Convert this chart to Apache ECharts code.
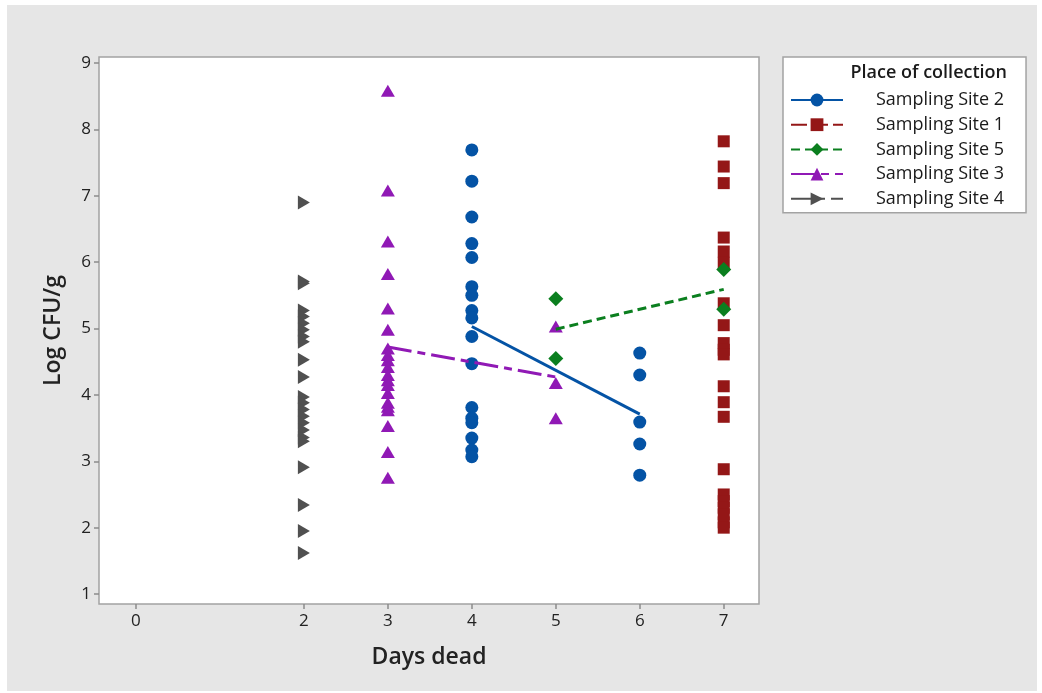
<!DOCTYPE html>
<html>
<head>
<meta charset="utf-8">
<script src="https://cdn.jsdelivr.net/npm/echarts@6/dist/echarts.min.js"></script>
<style>
html,body{margin:0;padding:0;background:#ffffff;width:1042px;height:693px;overflow:hidden;}
#chart{position:absolute;left:7px;top:5px;width:1030px;height:686px;}
</style>
</head>
<body>
<div id="chart"></div>
<script>
// ---- data ----
const xTicks = [0, 2, 3, 4, 5, 6, 7];
const yTicks = [1, 2, 3, 4, 5, 6, 7, 8, 9];

const site2Day4 = [7.69, 7.22, 6.68, 6.28, 6.07, 5.63, 5.50, 5.27, 5.16, 4.88, 4.47, 3.81, 3.65, 3.58, 3.35, 3.17, 3.07];
const site2Day6 = [4.63, 4.30, 3.59, 3.26, 2.79];
const site1Day7 = [7.82, 7.44, 7.19, 6.37, 6.16, 5.99, 5.38, 5.05, 4.78, 4.68, 4.61, 4.13, 3.89, 3.67, 2.88, 2.50, 2.40, 2.30, 2.20, 2.08, 2.00];
const site5Day5 = [5.45, 4.55];
const site5Day7 = [5.89, 5.29];
const site3Day3 = [8.58, 7.08, 6.31, 5.82, 5.30, 4.98, 4.70, 4.60, 4.52, 4.42, 4.30, 4.22, 4.15, 4.03, 3.88, 3.82, 3.77, 3.53, 3.14, 2.75];
const site3Day5 = [5.03, 4.18, 3.65];
const site4Day2 = [6.90, 5.71, 5.68, 5.27, 5.18, 5.08, 4.98, 4.88, 4.80, 4.53, 4.27, 3.97, 3.88, 3.78, 3.68, 3.58, 3.47, 3.36, 3.30, 2.91, 2.34, 1.95, 1.62];

// mean lines
const site2MeanDays = [4, 6];
const site2Means = [5.03, 3.71];
const site5MeanDays = [5, 7];
const site5Means = [4.99, 5.59];
const site3MeanDays = [3, 5];
const site3Means = [4.72, 4.27];

const siteNames = ['Sampling Site 2', 'Sampling Site 1', 'Sampling Site 5', 'Sampling Site 3', 'Sampling Site 4'];

// ---- helpers ----
function pts(day, vals) { return vals.map(v => [day, v]); }
function pairs(days, vals) { return days.map((d, i) => [d, vals[i]]); }

const FONT = '"Open Sans", "Noto Sans", sans-serif';
const C2 = '#0453A5', C1 = '#941717', C5 = '#0B7F1F', C3 = '#9019B5', C4 = '#505050';

function lineSeries(name, color, data, type, symbol, rotate) {
  return {
    name: name, type: 'line', data: data,
    showSymbol: false, symbol: symbol, symbolRotate: rotate || 0,
    lineStyle: { color: color, width: 3, type: type },
    itemStyle: { color: color },
    emphasis: { disabled: true }, silent: true, z: 3
  };
}
function scatterSeries(name, color, data, symbol, size, rotate) {
  return {
    name: name, type: 'scatter', data: data,
    symbol: symbol, symbolSize: size, symbolRotate: rotate || 0,
    itemStyle: { color: color, opacity: 1 },
    emphasis: { disabled: true }, silent: true, z: 2
  };
}

const chart = echarts.init(document.getElementById('chart'));
chart.setOption({
  backgroundColor: '#E6E6E6',
  animation: false,
  textStyle: { fontFamily: FONT },
  grid: {
    left: 92, top: 52, width: 660, height: 547,
    show: true, backgroundColor: '#ffffff', borderColor: '#A3A3A3', borderWidth: 1.5
  },
  xAxis: {
    type: 'value', min: -0.44, max: 7.42,
    name: 'Days dead', nameLocation: 'middle', nameGap: 42,
    nameTextStyle: { fontSize: 23, fontWeight: 600, color: '#222222', fontFamily: FONT },
    axisLine: { show: false, onZero: false },
    axisTick: { show: true, length: 5, customValues: xTicks, lineStyle: { color: '#8C8C8C', width: 1.5 } },
    axisLabel: { customValues: xTicks, fontSize: 17, color: '#222222', margin: 9, fontFamily: FONT },
    splitLine: { show: false }
  },
  yAxis: {
    type: 'value', min: 0.85, max: 9.09,
    name: 'Log CFU/g', nameLocation: 'middle', nameGap: 34,
    nameTextStyle: { fontSize: 23, fontWeight: 600, color: '#222222', fontFamily: FONT },
    axisLine: { show: false, onZero: false },
    axisTick: { show: true, length: 5, customValues: yTicks, lineStyle: { color: '#8C8C8C', width: 1.5 } },
    axisLabel: { customValues: yTicks, fontSize: 17, color: '#222222', margin: 8, fontFamily: FONT },
    splitLine: { show: false }
  },
  legend: {
    orient: 'vertical', left: 776, top: 52,
    data: siteNames,
    itemWidth: 52, itemHeight: 16, itemGap: 6.7,
    padding: [34, 22, 5, 7],
    backgroundColor: '#ffffff', borderColor: '#A3A3A3', borderWidth: 1.5,
    textStyle: { fontSize: 18, color: '#1a1a1a', fontFamily: FONT, padding: [0, 0, 0, 28] },
    selectedMode: false
  },
  graphic: [{
    type: 'text', right: 30, top: 59, z: 100,
    style: { text: 'Place of collection', font: '600 18px ' + FONT, fill: '#1a1a1a' }
  }],
  series: [
    lineSeries(siteNames[0], C2, pairs(site2MeanDays, site2Means), 'solid', 'circle'),
    lineSeries(siteNames[1], C1, [], [16, 5], 'rect'),
    lineSeries(siteNames[2], C5, pairs(site5MeanDays, site5Means), [9, 5], 'diamond'),
    lineSeries(siteNames[3], C3, pairs(site3MeanDays, site3Means), [24, 6, 8, 6], 'triangle'),
    lineSeries(siteNames[4], C4, [], [22, 6, 6, 6], 'triangle', -90),
    scatterSeries(siteNames[0], C2, pts(4, site2Day4).concat(pts(6, site2Day6)), 'circle', 13),
    scatterSeries(siteNames[1], C1, pts(7, site1Day7), 'rect', 12),
    scatterSeries(siteNames[2], C5, pts(5, site5Day5).concat(pts(7, site5Day7)), 'diamond', 15),
    scatterSeries(siteNames[3], C3, pts(3, site3Day3).concat(pts(5, site3Day5)), 'triangle', [14, 12]),
    scatterSeries(siteNames[4], C4, pts(2, site4Day2), 'triangle', [14, 12], -90)
  ]
});
</script>
</body>
</html>
